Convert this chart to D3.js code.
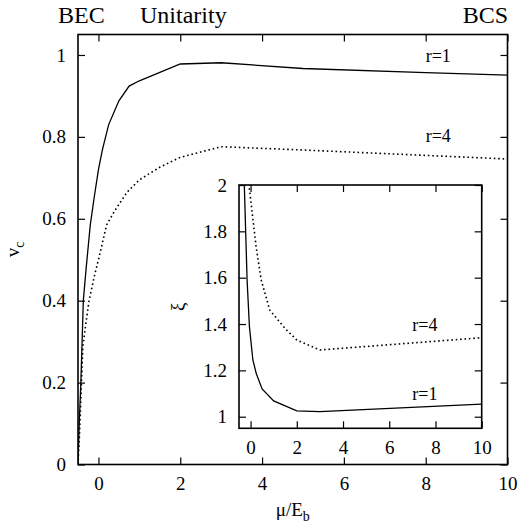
<!DOCTYPE html>
<html>
<head>
<meta charset="utf-8">
<script src="https://cdn.jsdelivr.net/npm/d3@7"></script>
<style>
  body { margin: 0; background: #fff; }
  text { font-family: "Liberation Serif", "Times New Roman", serif; fill: #000; }
</style>
</head>
<body>
<div id="chart"></div>
<script>
// main panel: critical velocity vs mu/E_b
var mu_r1 = [-0.5, -0.47, -0.43, -0.37, -0.3, -0.2, -0.1, 0, 0.1, 0.25, 0.5, 0.75, 1, 2, 3, 5, 8, 10];
var vc_r1 = [0, 0.1, 0.2, 0.4, 0.48, 0.585, 0.655, 0.72, 0.77, 0.83, 0.888, 0.924, 0.937, 0.978, 0.981, 0.967, 0.957, 0.951];
var mu_r4 = [-0.5, -0.46, -0.43, -0.38, -0.3, -0.23, -0.1, 0, 0.2, 0.4, 0.7, 1, 1.5, 2, 3, 5, 10];
var vc_r4 = [0, 0.08, 0.16, 0.29, 0.35, 0.40, 0.46, 0.5, 0.585, 0.62, 0.665, 0.695, 0.726, 0.75, 0.776, 0.768, 0.746];

// inset: xi vs mu/E_b
var mu_in_r1 = [-0.32, -0.27, -0.15, -0.05, 0.1, 0.25, 0.5, 1, 2, 3, 10];
var xi_r1 = [2.2, 2.0, 1.59, 1.39, 1.245, 1.185, 1.12, 1.068, 1.025, 1.022, 1.054];
var mu_in_r4 = [-0.1, -0.05, 0.07, 0.24, 0.46, 0.83, 1.5, 2, 3, 10];
var xi_r4 = [2.1, 1.985, 1.88, 1.734, 1.59, 1.46, 1.38, 1.331, 1.288, 1.341];

var xTicks = [0, 2, 4, 6, 8, 10];
var vcTicks = [0, 0.2, 0.4, 0.6, 0.8, 1];
var xiTicks = [1, 1.2, 1.4, 1.6, 1.8, 2];

var width = 523, height = 527;

var svg = d3.select("#chart")
  .append("svg")
    .attr("width", width)
    .attr("height", height);

function zip(xs, ys) {
  return xs.map(function(d, i) { return [d, ys[i]]; });
}

// draws one framed panel with inward ticks on all four sides
function panel(id, x, y, xt, yt, fmtY) {
  var g = svg.append("g");
  var x0 = x.range()[0], x1 = x.range()[1];
  var y0 = y.range()[0], y1 = y.range()[1];

  g.append("clipPath").attr("id", id)
    .append("rect")
      .attr("x", x0).attr("y", y1)
      .attr("width", x1 - x0).attr("height", y0 - y1);

  g.append("rect")
    .attr("x", x0).attr("y", y1)
    .attr("width", x1 - x0).attr("height", y0 - y1)
    .attr("fill", "#fff");

  var bottom = g.append("g").attr("transform", "translate(0," + y0 + ")")
    .call(d3.axisBottom(x).tickValues(xt).tickSizeInner(-7).tickSizeOuter(0).tickPadding(12).tickFormat(d3.format("d")));
  var top = g.append("g").attr("transform", "translate(0," + y1 + ")")
    .call(d3.axisTop(x).tickValues(xt).tickSizeInner(-7).tickSizeOuter(0).tickFormat(""));
  var left = g.append("g").attr("transform", "translate(" + x0 + ",0)")
    .call(d3.axisLeft(y).tickValues(yt).tickSizeInner(-7).tickSizeOuter(0).tickPadding(12).tickFormat(fmtY));
  var right = g.append("g").attr("transform", "translate(" + x1 + ",0)")
    .call(d3.axisRight(y).tickValues(yt).tickSizeInner(-7).tickSizeOuter(0).tickFormat(""));

  [bottom, top, left, right].forEach(function(a) {
    a.select(".domain").remove();
    a.selectAll("line").attr("stroke", "#000").attr("stroke-width", 1.2);
    a.selectAll("text").style("font-size", "19px").attr("font-family", "Liberation Serif, serif");
  });

  return g;
}

function drawLine(g, id, x, y, pts, dashed) {
  var line = d3.line()
    .x(function(d) { return x(d[0]); })
    .y(function(d) { return y(d[1]); });
  g.append("path")
    .datum(pts)
    .attr("clip-path", "url(#" + id + ")")
    .attr("d", line)
    .attr("fill", "none")
    .attr("stroke", "#000")
    .attr("stroke-width", dashed ? 1.6 : 1.3)
    .attr("stroke-dasharray", dashed ? "1.6,2.8" : null);
}

function frame(g, x, y) {
  g.append("rect")
    .attr("x", x.range()[0]).attr("y", y.range()[1])
    .attr("width", x.range()[1] - x.range()[0])
    .attr("height", y.range()[0] - y.range()[1])
    .attr("fill", "none")
    .attr("stroke", "#000")
    .attr("stroke-width", 1.6);
}

// ---- main plot
var x = d3.scaleLinear().domain([-0.5, 10]).range([78, 507.5]);
var y = d3.scaleLinear().domain([0, 1.05]).range([464.5, 34.5]);

var fmtMain = function(d) { return d === 0 ? "0" : d === 1 ? "1" : d3.format(".1f")(d); };
var main = panel("clipMain", x, y, xTicks, vcTicks, fmtMain);
drawLine(main, "clipMain", x, y, zip(mu_r1, vc_r1), false);
drawLine(main, "clipMain", x, y, zip(mu_r4, vc_r4), true);

main.append("text").attr("x", x(8)).attr("y", y(0.984)).style("font-size", "18px").text("r=1");
main.append("text").attr("x", x(8)).attr("y", y(0.788)).style("font-size", "18px").text("r=4");

// ---- inset
var xi = d3.scaleLinear().domain([-0.5, 10]).range([239, 481.7]);
var yi = d3.scaleLinear().domain([0.95, 2]).range([428.3, 185]);

var fmtIn = function(d) { return d === 1 ? "1" : d === 2 ? "2" : d3.format(".1f")(d); };
var inset = panel("clipInset", xi, yi, xTicks, xiTicks, fmtIn);
drawLine(inset, "clipInset", xi, yi, zip(mu_in_r1, xi_r1), false);
drawLine(inset, "clipInset", xi, yi, zip(mu_in_r4, xi_r4), true);

inset.append("text").attr("x", xi(7)).attr("y", yi(1.37)).style("font-size", "18px").text("r=4");
inset.append("text").attr("x", xi(7)).attr("y", yi(1.072)).style("font-size", "18px").text("r=1");

frame(main, x, y);
frame(inset, xi, yi);

// ---- axis titles
var xl = svg.append("text")
  .attr("x", (x.range()[0] + x.range()[1]) / 2)
  .attr("y", 516)
  .attr("text-anchor", "middle")
  .style("font-size", "19px");
xl.append("tspan").text("\u03bc/E");
xl.append("tspan").attr("dy", 5).style("font-size", "14px").text("b");

var yl = svg.append("text")
  .attr("transform", "translate(19," + (y.range()[0] + y.range()[1]) / 2 + ") rotate(-90)")
  .attr("text-anchor", "middle")
  .style("font-size", "19px");
yl.append("tspan").text("v");
yl.append("tspan").attr("dy", 5).style("font-size", "14px").text("c");

svg.append("text")
  .attr("transform", "translate(184," + (yi.range()[0] + yi.range()[1]) / 2 + ") rotate(-90)")
  .attr("text-anchor", "middle")
  .style("font-size", "19px")
  .text("\u03be");

// ---- regime labels on top
svg.append("text").attr("x", 58).attr("y", 23).style("font-size", "24px").text("BEC");
svg.append("text").attr("x", 140).attr("y", 23).style("font-size", "24px").text("Unitarity");
svg.append("text").attr("x", 508).attr("y", 23).attr("text-anchor", "end").style("font-size", "24px").text("BCS");
</script>
</body>
</html>
